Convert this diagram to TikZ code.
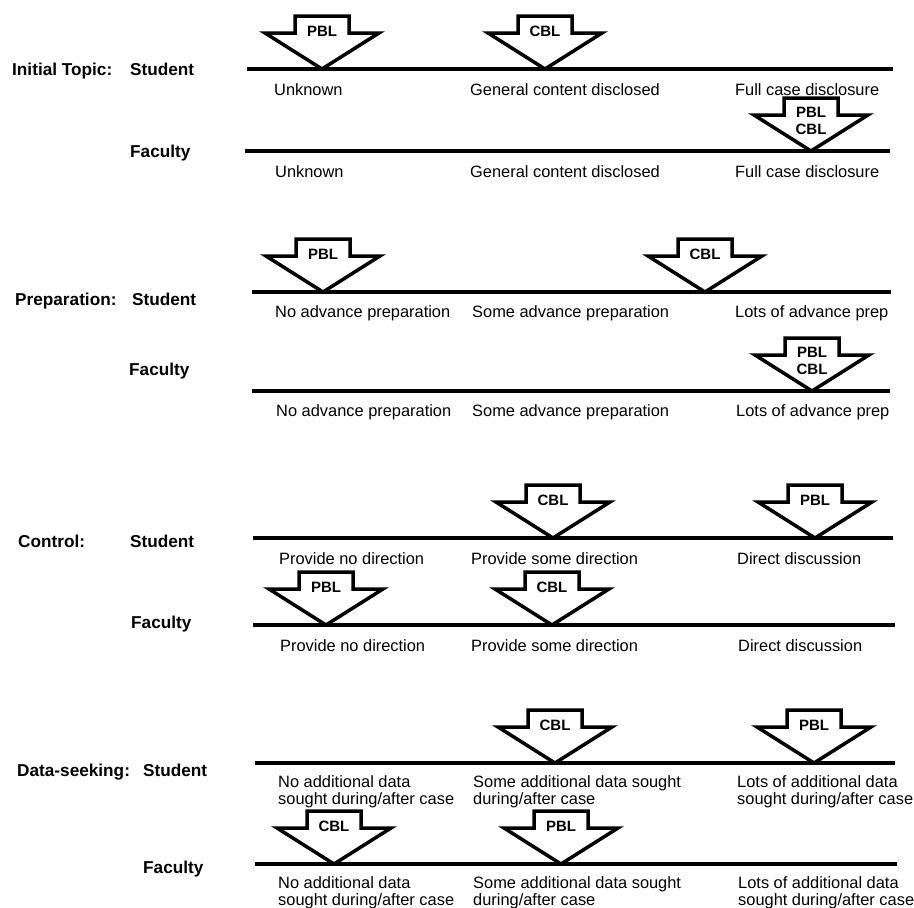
\documentclass[tikz,border=0pt]{standalone}
\usepackage{fontspec}
\setmainfont{Liberation Sans}
\tikzset{
  scaleline/.style={line width=4pt},
  lbl/.style={anchor=base west, inner sep=0pt, font=\fontsize{16.4}{17}\selectfont},
  rowlbl/.style={anchor=base west, inner sep=0pt, font=\bfseries\fontsize{17.2}{20}\selectfont},
  arrowlbl/.style={inner sep=0pt, align=center, font=\bfseries\fontsize{15}{17}\selectfont},
  arrowbody/.style={line width=3.5pt, fill=white, line join=miter},
  blockarrow/.pic={
    \draw[arrowbody] (-27,-53) -- (27,-53) -- (27,-36) -- (57,-36) -- (0,0) -- (-57,-36) -- (-27,-36) -- cycle;
    \node[arrowlbl] (-t) at (0,-38) {#1};
  },
  blockarrowtwo/.pic={
    \draw[arrowbody] (-27,-53) -- (27,-53) -- (27,-36) -- (57,-36) -- (0,0) -- (-57,-36) -- (-27,-36) -- cycle;
    \node[arrowlbl] (-t) at (0,-30) {#1};
  }
}
\begin{document}
\begin{tikzpicture}[x=1pt,y=-1pt]
\useasboundingbox (0,0) rectangle (914,908);

% ---------- Initial Topic ----------
\node[rowlbl] (it) at (12,75) {Initial Topic:};
\node[rowlbl] (its) at (130,75) {Student};
\coordinate (l1a) at (247,69); \coordinate (l1b) at (893,69);
\draw[scaleline] (l1a) -- (l1b);
\node[lbl] (l1t1) at (274,95) {Unknown};
\node[lbl] (l1t2) at (470,95) {General content disclosed};
\node[lbl] (l1t3) at (735,95) {Full case disclosure};

\node[rowlbl] (itf) at (130,157) {Faculty};
\coordinate (l2a) at (245,151); \coordinate (l2b) at (890,151);
\draw[scaleline] (l2a) -- (l2b);
\node[lbl] (l2t1) at (275,177) {Unknown};
\node[lbl] (l2t2) at (470,177) {General content disclosed};
\node[lbl] (l2t3) at (735,177) {Full case disclosure};

\pic (a1) at (322,69) {blockarrow={PBL}};
\pic (a2) at (545,69) {blockarrow={CBL}};
\pic (a3) at (811,151) {blockarrowtwo={PBL\\CBL}};

% ---------- Preparation ----------
\node[rowlbl] (pr) at (15,305) {Preparation:};
\node[rowlbl] (prs) at (132,305) {Student};
\coordinate (l3a) at (252,292); \coordinate (l3b) at (891,292);
\draw[scaleline] (l3a) -- (l3b);
\node[lbl] (l3t1) at (275,317) {No advance preparation};
\node[lbl] (l3t2) at (472,317) {Some advance preparation};
\node[lbl] (l3t3) at (735,317) {Lots of advance prep};

\node[rowlbl] (prf) at (129,375) {Faculty};
\coordinate (l4a) at (252,391); \coordinate (l4b) at (890,391);
\draw[scaleline] (l4a) -- (l4b);
\node[lbl] (l4t1) at (276,416) {No advance preparation};
\node[lbl] (l4t2) at (472,416) {Some advance preparation};
\node[lbl] (l4t3) at (736,416) {Lots of advance prep};

\pic (a4) at (323,292) {blockarrow={PBL}};
\pic (a5) at (705,292) {blockarrow={CBL}};
\pic (a6) at (812,391) {blockarrowtwo={PBL\\CBL}};

% ---------- Control ----------
\node[rowlbl] (co) at (18,547) {Control:};
\node[rowlbl] (cos) at (130,547) {Student};
\coordinate (l5a) at (253,538); \coordinate (l5b) at (893,538);
\draw[scaleline] (l5a) -- (l5b);
\node[lbl] (l5t1) at (279,564) {Provide no direction};
\node[lbl] (l5t2) at (471,564) {Provide some direction};
\node[lbl] (l5t3) at (737,564) {Direct discussion};

\node[rowlbl] (cof) at (131,628) {Faculty};
\coordinate (l6a) at (253,625); \coordinate (l6b) at (895,625);
\draw[scaleline] (l6a) -- (l6b);
\node[lbl] (l6t1) at (280,651) {Provide no direction};
\node[lbl] (l6t2) at (471,651) {Provide some direction};
\node[lbl] (l6t3) at (738,651) {Direct discussion};

\pic (a7) at (553,538) {blockarrow={CBL}};
\pic (a8) at (815,538) {blockarrow={PBL}};
\pic (a9) at (326,625) {blockarrow={PBL}};
\pic (a10) at (552,625) {blockarrow={CBL}};

% ---------- Data-seeking ----------
\node[rowlbl] (ds) at (17,776) {Data-seeking:};
\node[rowlbl] (dss) at (143,776) {Student};
\coordinate (l7a) at (255,763); \coordinate (l7b) at (895,763);
\draw[scaleline] (l7a) -- (l7b);
\node[lbl] (l7t1a) at (278,787) {No additional data};
\node[lbl] (l7t1b) at (278,804) {sought during/after case};
\node[lbl] (l7t2a) at (473,787) {Some additional data sought};
\node[lbl] (l7t2b) at (473,804) {during/after case};
\node[lbl] (l7t3a) at (737,787) {Lots of additional data};
\node[lbl] (l7t3b) at (737,804) {sought during/after case};

\node[rowlbl] (dsf) at (143,873) {Faculty};
\coordinate (l8a) at (255,864); \coordinate (l8b) at (897,864);
\draw[scaleline] (l8a) -- (l8b);
\node[lbl] (l8t1a) at (278,888) {No additional data};
\node[lbl] (l8t1b) at (278,905) {sought during/after case};
\node[lbl] (l8t2a) at (473,888) {Some additional data sought};
\node[lbl] (l8t2b) at (473,905) {during/after case};
\node[lbl] (l8t3a) at (738,888) {Lots of additional data};
\node[lbl] (l8t3b) at (738,905) {sought during/after case};

\pic (a11) at (555,763) {blockarrow={CBL}};
\pic (a12) at (814,763) {blockarrow={PBL}};
\pic (a13) at (334,864) {blockarrow={CBL}};
\pic (a14) at (561,864) {blockarrow={PBL}};
\end{tikzpicture}
\end{document}
